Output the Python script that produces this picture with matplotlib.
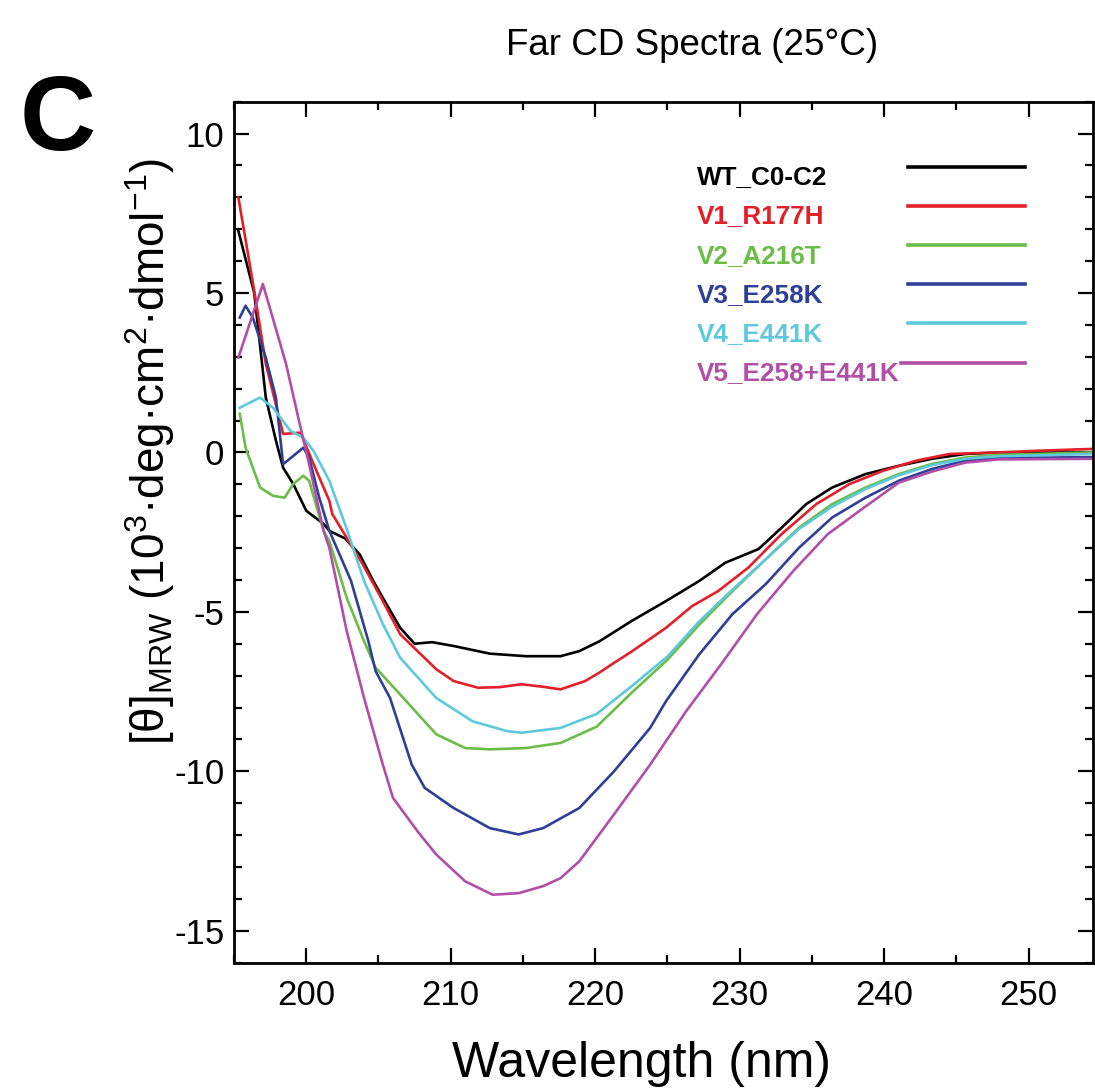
import matplotlib
matplotlib.use("Agg")
import matplotlib.pyplot as plt
from matplotlib.ticker import MultipleLocator

plt.rcParams['font.family'] = ['Liberation Sans', 'DejaVu Sans']
plt.rcParams['axes.unicode_minus'] = False

wl_wt = [195.3, 196.4, 197.2, 197.9, 198.4, 199.1, 200.0, 201.2, 201.6, 202.7, 203.7,
         204.6, 205.3, 206.5, 207.5, 208.7, 210.2, 212.7, 215.2, 217.6, 218.9, 220.3,
         222.5, 224.9, 227.2, 229.0, 231.3, 232.9, 234.6, 236.4, 238.7, 241.0, 243.3,
         245.6, 247.9, 250.2, 254.4]
th_wt = [6.95, 5.0, 1.72, 0.37, -0.48, -0.99, -1.83, -2.24, -2.46, -2.7, -3.2,
         -4.0, -4.56, -5.5, -6.0, -5.95, -6.07, -6.31, -6.39, -6.39, -6.23, -5.92,
         -5.29, -4.66, -4.03, -3.46, -3.03, -2.36, -1.62, -1.1, -0.68, -0.42, -0.2,
         -0.05, 0.0, 0.0, 0.0]

wl_v1 = [195.3, 196.4, 197.2, 198.4, 199.6, 200.5, 201.6, 201.8, 203.9, 205.3, 206.5,
         207.7, 209.0, 210.2, 211.9, 213.4, 214.9, 216.4, 217.6, 219.3, 220.3, 221.3,
         222.5, 224.9, 226.7, 228.5, 230.6, 232.9, 235.3, 237.6, 239.9, 242.2, 244.5,
         247.9, 250.5, 254.4]
th_v1 = [8.0, 5.07, 2.78, 0.58, 0.62, -0.36, -1.52, -1.93, -3.5, -4.66, -5.7,
         -6.23, -6.8, -7.17, -7.38, -7.36, -7.27, -7.35, -7.43, -7.17, -6.9, -6.6,
         -6.25, -5.5, -4.82, -4.35, -3.61, -2.56, -1.62, -0.99, -0.58, -0.26, -0.05,
         0.0, 0.05, 0.11]

wl_v2 = [195.4, 195.8, 196.8, 197.7, 198.5, 199.1, 199.8, 200.2, 201.2, 201.6, 202.8,
         204.0, 204.8, 206.5, 209.0, 211.0, 212.7, 215.2, 217.6, 220.1, 222.6, 225.0,
         227.2, 229.5, 231.8, 234.1, 236.4, 238.7, 241.0, 243.3, 245.6, 247.9, 254.4]
th_v2 = [1.21, 0.15, -1.1, -1.36, -1.42, -0.99, -0.73, -0.89, -2.46, -2.78, -4.56,
         -5.92, -6.75, -7.59, -8.84, -9.27, -9.31, -9.27, -9.11, -8.6, -7.5, -6.5,
         -5.4, -4.35, -3.35, -2.36, -1.62, -1.1, -0.68, -0.36, -0.16, -0.08, 0.0]

wl_v3 = [195.4, 195.8, 196.3, 197.2, 197.9, 198.4, 199.8, 200.2, 200.9, 201.6, 203.1,
         204.3, 204.8, 205.8, 207.3, 208.2, 210.2, 212.7, 214.7, 216.4, 218.9, 221.3,
         223.8, 224.9, 227.2, 229.5, 231.8, 234.1, 236.4, 238.7, 241.0, 243.3, 245.6,
         247.9, 254.4]
th_v3 = [4.23, 4.6, 4.23, 2.97, 1.72, -0.37, 0.15, -0.17, -1.42, -2.46, -4.03,
         -5.92, -6.86, -7.7, -9.79, -10.52, -11.15, -11.78, -11.98, -11.78, -11.15, -10.0,
         -8.64, -7.8, -6.33, -5.07, -4.13, -2.99, -2.04, -1.42, -0.89, -0.52, -0.26,
         -0.17, -0.15]

wl_v4 = [195.4, 196.8, 197.7, 198.9, 199.8, 200.5, 201.6, 202.8, 204.0, 205.3, 206.5,
         209.0, 211.5, 213.9, 214.9, 217.6, 220.1, 222.6, 225.0, 227.2, 229.5, 231.8,
         234.1, 236.4, 238.7, 241.0, 243.3, 245.6, 247.9, 254.4]
th_v4 = [1.4, 1.72, 1.4, 0.68, 0.46, 0.05, -0.89, -2.4, -4.03, -5.38, -6.44,
         -7.7, -8.43, -8.74, -8.79, -8.64, -8.2, -7.3, -6.4, -5.3, -4.3, -3.35,
         -2.4, -1.7, -1.15, -0.72, -0.4, -0.2, -0.12, -0.05]

wl_v5 = [195.3, 197.0, 198.6, 199.5, 200.2, 201.2, 201.6, 202.8, 204.0, 205.3, 206.0,
         207.7, 209.0, 211.0, 212.9, 214.7, 216.4, 217.6, 218.9, 221.3, 223.8, 226.3,
         228.7, 231.2, 233.7, 236.1, 238.6, 241.0, 243.3, 245.6, 247.9, 254.4]
th_v5 = [2.97, 5.28, 2.78, 0.99, -0.37, -2.46, -2.99, -5.6, -7.7, -9.79, -10.83,
         -11.88, -12.61, -13.45, -13.87, -13.82, -13.6, -13.35, -12.82, -11.35, -9.79, -8.11,
         -6.65, -5.07, -3.72, -2.56, -1.73, -0.95, -0.6, -0.32, -0.22, -0.2]

nomes = ["WT_C0-C2", "V1_R177H", "V2_A216T", "V3_E258K", "V4_E441K", "V5_E258+E441K"]
cores = ["#000000", "#e3202a", "#6abd46", "#2e3f98", "#5ec8dc", "#b24ea7"]
series = [(wl_wt, th_wt), (wl_v1, th_v1), (wl_v2, th_v2),
          (wl_v3, th_v3), (wl_v4, th_v4), (wl_v5, th_v5)]

fig = plt.figure(figsize=(10.95, 10.88), dpi=100)
ax = fig.add_axes([0.2137, 0.1152, 0.7845, 0.7914])

for (x, y), cor in zip(series, cores):
    ax.plot(x, y, color=cor, lw=1.9, solid_joinstyle='round')

ax.set_xlim(195, 254.45)
ax.set_ylim(-16, 11)
ax.xaxis.set_major_locator(MultipleLocator(10))
ax.xaxis.set_minor_locator(MultipleLocator(5))
ax.yaxis.set_major_locator(MultipleLocator(5))
ax.yaxis.set_minor_locator(MultipleLocator(1))
ax.tick_params(which='both', direction='in', top=True, right=True, width=1.6)
ax.tick_params(which='major', length=11)
ax.tick_params(which='minor', length=5.5)
ax.tick_params(axis='x', labelsize=25, pad=12)
ax.tick_params(axis='y', labelsize=25, pad=7)
for s in ax.spines.values():
    s.set_linewidth(2.0)

# legenda desenhada a mao: texto colorido a esquerda, linha a direita
for i, (nome, cor) in enumerate(zip(nomes, cores)):
    yl = 0.924 - i * 0.0454
    ax.text(0.5387, yl - 0.012, nome, color=cor, fontsize=18.8, fontweight='bold',
            ha='left', va='center', transform=ax.transAxes)
    x0 = 0.777 if i == 5 else 0.785
    ax.plot([x0, 0.921], [yl, yl], color=cor, lw=2.6, transform=ax.transAxes)

fig.text(692 / 1095, 0.949, "Far CD Spectra (25°C)", fontsize=26.5, ha='center', va='baseline')
fig.text(641 / 1095, 0.0101, "Wavelength (nm)", fontsize=36, ha='center', va='baseline')
fig.text(150 / 1095, 1 - 452 / 1088,
         r"[θ]$_{\mathregular{MRW}}$ (10$^{\mathregular{3}}$·deg·cm$^{\mathregular{2}}$·dmol$^{\mathregular{-1}}$)",
         fontsize=33, rotation=90, ha='center', va='center')
fig.text(0.018, 1 - 150 / 1088, "C", fontsize=76, fontweight='bold', ha='left', va='baseline')

fig.savefig("out.png", dpi=100)
